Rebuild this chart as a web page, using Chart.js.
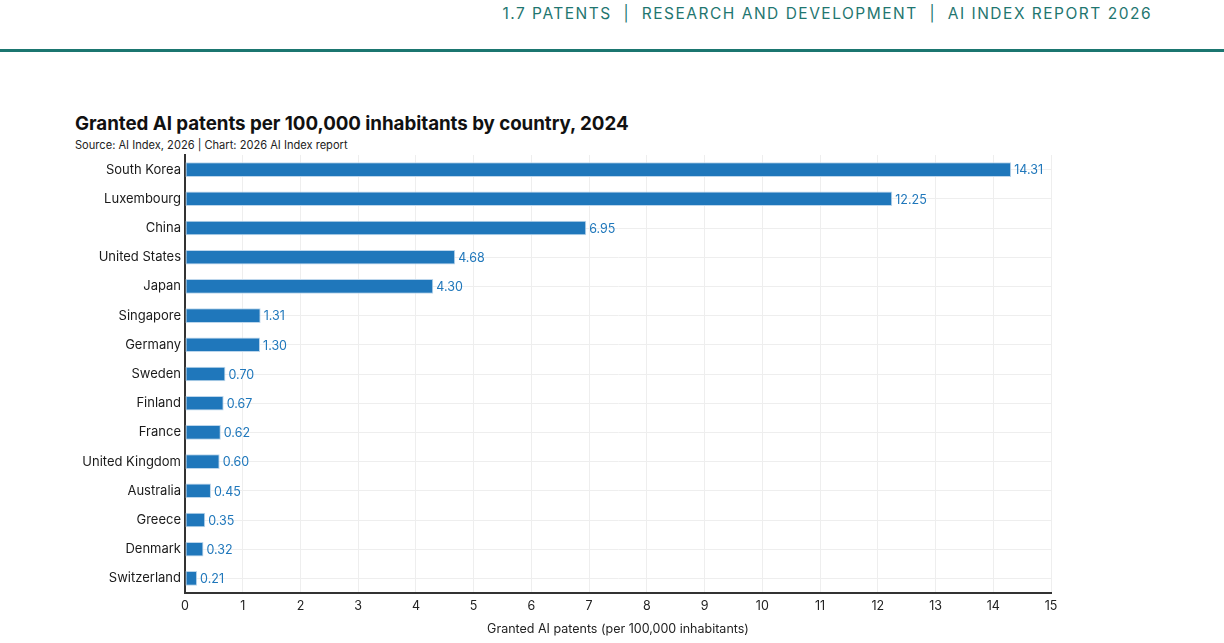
<!DOCTYPE html>
<html>
<head>
<meta charset="utf-8">
<title>Granted AI patents per 100,000 inhabitants</title>
<script src="https://cdn.jsdelivr.net/npm/chart.js@4"></script>
<style>
  html, body { margin: 0; padding: 0; background: #fff; }
  body { width: 1224px; height: 643px; position: relative; overflow: hidden; font-family: Inter, "Noto Sans", sans-serif; }
  .hdr { position: absolute; right: 72px; top: 4px; font-size: 15.5px; letter-spacing: 1.5px; color: #1f7670; white-space: nowrap; }
  .hdr-line { position: absolute; left: 0; right: 0; top: 49px; height: 3px; background: #1b7670; }
  .title { position: absolute; left: 75px; top: 112px; font-size: 18.75px; font-weight: 700; color: #111; white-space: nowrap; letter-spacing: -0.05px; }
  .sub { position: absolute; left: 75px; top: 138px; font-size: 11.1px; color: #222; white-space: nowrap; }
  .wrap { position: absolute; left: 0; top: 0; width: 1224px; height: 643px; }
</style>
</head>
<body>
<div class="hdr">1.7 PATENTS &nbsp;|&nbsp; RESEARCH AND DEVELOPMENT &nbsp;|&nbsp; AI INDEX REPORT 2026</div>
<div class="hdr-line"></div>
<div class="title">Granted AI patents per 100,000 inhabitants by country, 2024</div>
<div class="sub">Source: AI Index, 2026 | Chart: 2026 AI Index report</div>
<div class="wrap"><canvas id="chart" width="1224" height="643"></canvas></div>
<script>
// Granted AI patents per 100,000 inhabitants, 2024
const countries = ['South Korea', 'Luxembourg', 'China', 'United States', 'Japan', 'Singapore', 'Germany',
  'Sweden', 'Finland', 'France', 'United Kingdom', 'Australia', 'Greece', 'Denmark', 'Switzerland'];
const patents = [14.31, 12.25, 6.95, 4.68, 4.30, 1.31, 1.30, 0.70, 0.67, 0.62, 0.60, 0.45, 0.35, 0.32, 0.21];
const xTicks = [0, 1, 2, 3, 4, 5, 6, 7, 8, 9, 10, 11, 12, 13, 14, 15];

const BLUE = '#1f77bb';
const FONT = 'Inter, "Noto Sans", sans-serif';

// value labels at the end of each bar
const barLabels = {
  id: 'barLabels',
  afterDatasetsDraw(chart) {
    const ctx = chart.ctx;
    const meta = chart.getDatasetMeta(0);
    ctx.save();
    ctx.font = '12.5px ' + FONT;
    ctx.fillStyle = BLUE;
    ctx.textAlign = 'left';
    ctx.textBaseline = 'middle';
    meta.data.forEach((bar, i) => {
      ctx.fillText(patents[i].toFixed(2), bar.x + 3, bar.y + 1);
    });
    ctx.restore();
  }
};

new Chart(document.getElementById('chart'), {
  type: 'bar',
  data: {
    labels: countries,
    datasets: [{
      data: patents,
      backgroundColor: BLUE,
      borderColor: '#bcd6ec',
      borderWidth: 1,
      borderSkipped: false,
      categoryPercentage: 1,
      barPercentage: 0.5
    }]
  },
  options: {
    indexAxis: 'y',
    responsive: false,
    animation: false,
    devicePixelRatio: 1,
    layout: { padding: { left: 0, right: 173, top: 155, bottom: 0 } },
    plugins: { legend: { display: false }, tooltip: { enabled: false } },
    scales: {
      x: {
        min: 0,
        max: 15,
        afterBuildTicks: s => { s.ticks = xTicks.map(v => ({ value: v })); },
        afterFit: s => { s.height = 50; },
        grid: { color: '#eeeeee', drawTicks: false },
        border: { color: '#333', width: 2 },
        ticks: { color: '#222', font: { family: FONT, size: 12.5 }, padding: 6 },
        title: { display: true, text: 'Granted AI patents (per 100,000 inhabitants)', color: '#222',
                 font: { family: FONT, size: 12.5 }, padding: { top: 2, bottom: 6 } }
      },
      y: {
        afterFit: s => { s.width = 185; },
        grid: { color: '#eeeeee', drawTicks: false, offset: false },
        border: { color: '#333', width: 2 },
        ticks: { color: '#1a1a1a', font: { family: FONT, size: 13 }, padding: 4 }
      }
    }
  },
  plugins: [barLabels]
});
</script>
</body>
</html>
